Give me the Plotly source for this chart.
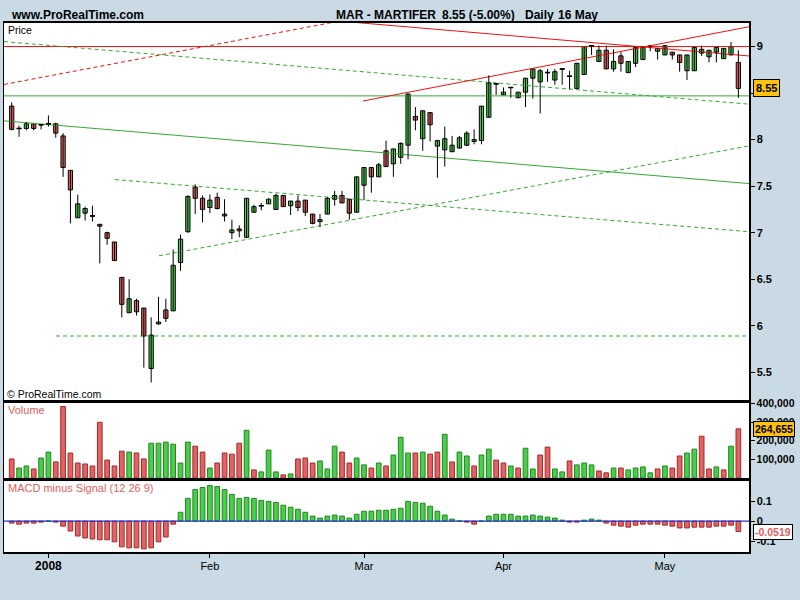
import plotly.graph_objects as go

# ---------------- data ----------------
day_index = list(range(100))

open_px = [8.36, 8.12, 8.12, 8.17, 8.16, 8.17, 8.17, 8.04, 7.67, 7.16,
           7.21, 7.18, 7.09, 7.00, 6.90, 6.52, 6.14, 6.27, 6.19, 5.54,
           6.02, 6.17, 6.16, 6.68, 7.01, 7.49, 7.37, 7.27, 7.38, 7.18,
           7.00, 7.04, 6.95, 7.22, 7.29, 7.31, 7.25, 7.40, 7.29, 7.34,
           7.35, 7.20, 7.12, 7.20, 7.36, 7.40, 7.36, 7.22, 7.51, 7.70,
           7.60, 7.88, 7.74, 7.81, 7.94, 8.25, 8.01, 8.29, 7.93, 7.89,
           7.87, 7.91, 7.94, 7.98, 7.99, 8.24, 8.60, 8.48, 8.56, 8.45,
           8.51, 8.66, 8.62, 8.72, 8.64, 8.76, 8.68, 8.55, 8.70, 9.01,
           8.84, 8.96, 8.76, 8.90, 8.72, 8.82, 8.86, 9.00, 8.95, 8.91,
           8.94, 8.91, 8.74, 8.74, 8.93, 8.89, 8.94, 8.87, 8.91, 8.83]
high_px = [8.40, 8.15, 8.19, 8.17, 8.16, 8.26, 8.18, 8.07, 7.67, 7.41,
           7.28, 7.29, 7.09, 7.01, 6.90, 6.52, 6.50, 6.29, 6.19, 6.09,
           6.31, 6.29, 6.82, 6.98, 7.40, 7.52, 7.40, 7.41, 7.43, 7.36,
           7.14, 7.08, 7.37, 7.30, 7.32, 7.37, 7.42, 7.40, 7.34, 7.40,
           7.35, 7.20, 7.20, 7.38, 7.45, 7.45, 7.36, 7.60, 7.70, 7.70,
           7.75, 7.99, 7.90, 7.97, 8.49, 8.35, 8.31, 8.29, 7.99, 8.14,
           8.04, 8.04, 8.09, 8.11, 8.36, 8.69, 8.61, 8.56, 8.56, 8.51,
           8.66, 8.76, 8.76, 8.76, 8.76, 8.76, 8.74, 8.82, 9.00, 9.01,
           9.01, 9.01, 8.97, 8.94, 8.84, 8.99, 9.00, 9.01, 8.98, 9.01,
           8.94, 8.91, 8.91, 8.99, 9.01, 8.96, 8.99, 8.98, 9.05, 8.96]
low_px = [8.10, 8.03, 8.10, 8.10, 8.11, 8.14, 8.02, 7.60, 7.10, 7.16,
          7.13, 7.12, 6.67, 6.87, 6.70, 6.09, 6.14, 6.11, 5.55, 5.39,
          6.01, 6.04, 6.16, 6.59, 7.00, 7.20, 7.11, 7.21, 7.25, 7.12,
          6.93, 6.95, 6.94, 7.22, 7.24, 7.31, 7.25, 7.28, 7.19, 7.23,
          7.18, 7.09, 7.06, 7.20, 7.29, 7.32, 7.14, 7.22, 7.35, 7.43,
          7.60, 7.71, 7.60, 7.74, 7.79, 8.10, 7.88, 7.98, 7.59, 7.71,
          7.87, 7.90, 7.93, 7.95, 7.95, 8.24, 8.48, 8.48, 8.45, 8.45,
          8.35, 8.44, 8.28, 8.62, 8.59, 8.59, 8.54, 8.55, 8.70, 8.91,
          8.84, 8.76, 8.73, 8.73, 8.72, 8.78, 8.86, 8.95, 8.86, 8.91,
          8.86, 8.73, 8.64, 8.74, 8.90, 8.83, 8.83, 8.87, 8.91, 8.45]
close_px = [8.11, 8.12, 8.17, 8.12, 8.16, 8.17, 8.07, 7.70, 7.46, 7.31,
            7.26, 7.18, 7.07, 6.94, 6.70, 6.23, 6.29, 6.15, 5.89, 5.90,
            6.04, 6.08, 6.65, 6.93, 7.39, 7.37, 7.25, 7.35, 7.26, 7.20,
            7.03, 7.02, 7.37, 7.28, 7.29, 7.36, 7.40, 7.28, 7.34, 7.27,
            7.22, 7.10, 7.14, 7.37, 7.40, 7.32, 7.21, 7.60, 7.70, 7.60,
            7.73, 7.71, 7.90, 7.96, 8.49, 8.21, 8.31, 8.16, 7.99, 8.01,
            7.94, 8.02, 8.07, 8.00, 8.36, 8.61, 8.60, 8.51, 8.56, 8.51,
            8.66, 8.76, 8.74, 8.72, 8.73, 8.76, 8.68, 8.82, 9.00, 9.01,
            8.96, 8.76, 8.84, 8.82, 8.84, 8.99, 9.00, 9.01, 8.98, 9.01,
            8.91, 8.83, 8.91, 8.99, 8.97, 8.96, 8.99, 8.98, 9.00, 8.55]
prev_close = 8.40  # close of the session before the first bar

volume = [102000, 53000, 64000, 48000, 107000, 139000, 86000, 385000, 134000, 80000,
          75000, 64000, 300000, 96000, 64000, 144000, 139000, 134000, 102000, 187000,
          187000, 193000, 182000, 80000, 193000, 171000, 139000, 53000, 80000, 134000,
          128000, 187000, 257000, 43000, 32000, 150000, 32000, 16000, 21000, 102000,
          107000, 80000, 91000, 48000, 171000, 139000, 80000, 107000, 70000, 53000,
          80000, 64000, 123000, 219000, 134000, 134000, 139000, 128000, 139000, 235000,
          86000, 139000, 118000, 64000, 123000, 155000, 96000, 80000, 64000, 53000,
          160000, 48000, 123000, 166000, 48000, 32000, 91000, 70000, 80000, 70000,
          37000, 27000, 53000, 53000, 43000, 53000, 59000, 27000, 48000, 64000,
          53000, 118000, 134000, 155000, 225000, 48000, 59000, 43000, 171000, 264655]

macd_hist = [-0.010, -0.015, -0.010, -0.010, -0.005, 0.000, -0.005, -0.025, -0.049, -0.074,
             -0.084, -0.089, -0.093, -0.093, -0.103, -0.128, -0.133, -0.133, -0.138, -0.133,
             -0.103, -0.079, -0.015, 0.044, 0.113, 0.157, 0.167, 0.177, 0.172, 0.157,
             0.133, 0.113, 0.118, 0.113, 0.103, 0.098, 0.093, 0.079, 0.069, 0.059,
             0.044, 0.025, 0.015, 0.025, 0.030, 0.025, 0.015, 0.034, 0.049, 0.049,
             0.054, 0.054, 0.059, 0.064, 0.098, 0.093, 0.089, 0.074, 0.049, 0.030,
             0.010, 0.001, -0.005, -0.015, 0.000, 0.025, 0.034, 0.034, 0.034, 0.025,
             0.025, 0.030, 0.025, 0.020, 0.015, 0.005, -0.005, -0.005, 0.005, 0.010,
             0.005, -0.010, -0.020, -0.025, -0.030, -0.020, -0.015, -0.015, -0.015, -0.020,
             -0.025, -0.034, -0.034, -0.030, -0.030, -0.030, -0.025, -0.025, -0.020, -0.0519]

month_tick_index = [5, 27, 48, 67, 89]
month_tick_labels = ["2008", "Feb", "Mar", "Apr", "May"]
price_ticks = [5.5, 6, 6.5, 7, 7.5, 8, 8.5, 9]
volume_ticks = [100000, 200000, 300000, 400000]
macd_ticks = [-0.1, 0, 0.1]

# trend lines drawn on the chart: (start index, start price, end index, end price)
trend_lines = {
    "res_horizontal": (-1.05, 9.00, 100.45, 9.00),
    "sup_horizontal": (-1.05, 8.47, 100.45, 8.47),
    "red_dash_rise": (-1.05, 8.593, 50.0, 9.353),
    "green_dash_fall": (-1.05, 9.053, 100.45, 8.381),
    "red_rise": (47.86, 8.415, 100.45, 9.213),
    "red_fall": (40.0, 9.305, 100.45, 8.899),
    "green_fall": (-1.05, 8.202, 100.45, 7.528),
    "green_dash_rise": (20.07, 6.752, 100.45, 7.933),
    "green_dash_channel": (14.07, 7.571, 100.45, 7.011),
    "green_dash_floor": (6.04, 5.89, 100.45, 5.89),
}

# ---------------- styles ----------------
RED_LINE = "#EE1111"
GREEN_LINE = "#33AA33"
line_styles = {
    "res_horizontal": (RED_LINE, "solid"),
    "sup_horizontal": (GREEN_LINE, "solid"),
    "red_dash_rise": (RED_LINE, "4px,3px"),
    "green_dash_fall": (GREEN_LINE, "4px,3px"),
    "red_rise": (RED_LINE, "solid"),
    "red_fall": (RED_LINE, "solid"),
    "green_fall": (GREEN_LINE, "solid"),
    "green_dash_rise": (GREEN_LINE, "4px,3px"),
    "green_dash_channel": (GREEN_LINE, "4px,3px"),
    "green_dash_floor": (GREEN_LINE, "4px,3px"),
}
UP_FILL = "#4DCB4D"
DOWN_FILL = "#E06464"
UP_EDGE = "#1B8A1B"
DOWN_EDGE = "#A52828"
BG = "#C9DAE4"
FONT = "Liberation Sans"

fig = go.Figure()

# trend lines (behind candles)
for name, (x0, p0, x1, p1) in trend_lines.items():
    col, dash = line_styles[name]
    fig.add_trace(go.Scatter(x=[x0, x1], y=[p0, p1], mode="lines",
                             line=dict(color=col, width=1, dash=dash),
                             xaxis="x", yaxis="y", hoverinfo="skip"))

# wicks
wx, wy = [], []
for i in day_index:
    wx += [i, i, None]
    wy += [low_px[i], high_px[i], None]
fig.add_trace(go.Scatter(x=wx, y=wy, mode="lines", line=dict(color="black", width=1),
                         xaxis="x", yaxis="y", hoverinfo="skip"))

# candle bodies
body_h = [abs(c - o) for o, c in zip(open_px, close_px)]
body_b = [min(o, c) for o, c in zip(open_px, close_px)]
body_col = [UP_FILL if c >= o else DOWN_FILL for o, c in zip(open_px, close_px)]
fig.add_trace(go.Bar(x=day_index, y=body_h, base=body_b, width=0.58,
                     marker=dict(color=body_col, line=dict(color="black", width=1)),
                     xaxis="x", yaxis="y", hoverinfo="skip"))

# doji crosses
dx, dy = [], []
for i in day_index:
    if abs(close_px[i] - open_px[i]) < 0.005:
        dx += [i - 0.34, i + 0.34, None]
        dy += [open_px[i], open_px[i], None]
fig.add_trace(go.Scatter(x=dx, y=dy, mode="lines", line=dict(color="black", width=1.5),
                         xaxis="x", yaxis="y", hoverinfo="skip"))

# volume
prev = [prev_close] + close_px[:-1]
vol_up = [c >= p for c, p in zip(close_px, prev)]
fig.add_trace(go.Bar(x=day_index, y=volume, width=0.64,
                     marker=dict(color=[UP_FILL if u else DOWN_FILL for u in vol_up],
                                 line=dict(color=[UP_EDGE if u else DOWN_EDGE for u in vol_up], width=1)),
                     xaxis="x2", yaxis="y2", hoverinfo="skip"))

# MACD histogram
fig.add_trace(go.Bar(x=day_index, y=macd_hist, width=0.64,
                     marker=dict(color=[UP_FILL if v >= 0 else DOWN_FILL for v in macd_hist],
                                 line=dict(color=[UP_EDGE if v >= 0 else DOWN_EDGE for v in macd_hist], width=1)),
                     xaxis="x3", yaxis="y3", hoverinfo="skip"))

W, H = 800, 600
XDOM = [4 / W, 749 / W]
XR = [-1.05, 100.45]


def py(p):
    return 1 - p / H


base_x = dict(range=XR, domain=XDOM, showgrid=False, zeroline=False, showline=True,
              mirror=True, linecolor="black", linewidth=1.5, fixedrange=True)
base_y = dict(showgrid=False, zeroline=False, showline=True, mirror=True,
              linecolor="black", linewidth=1.5, side="right", ticks="outside",
              ticklen=4, tickcolor="black", tickmode="array",
              tickfont=dict(family=FONT, size=11, color="black"), fixedrange=True)

# the 8.5 label sits under the last-close box in the reference, so it is left blank
price_labels = ["" if abs(v - close_px[-1]) < 0.1 else "<b>%g</b>" % v for v in price_ticks]

fig.update_layout(
    width=W, height=H, margin=dict(l=0, r=0, t=0, b=0),
    paper_bgcolor=BG, plot_bgcolor="white", showlegend=False, hovermode=False,
    barmode="overlay",
    xaxis=dict(base_x, anchor="y", showticklabels=False, ticks=""),
    xaxis2=dict(base_x, anchor="y2", showticklabels=False, ticks=""),
    xaxis3=dict(base_x, anchor="y3", ticks="outside", ticklen=4, tickcolor="black",
                tickmode="array", tickvals=month_tick_index, ticklabelstandoff=-2,
                ticktext=["<b>" + month_tick_labels[0] + "</b>"] +
                         ['<span style="font-size:11px">' + t + "</span>" for t in month_tick_labels[1:]],
                tickfont=dict(family=FONT, size=12, color="black")),
    yaxis=dict(base_y, anchor="x", domain=[py(398), py(17)], range=[5.202, 9.255],
               tickvals=price_ticks, ticktext=price_labels),
    yaxis2=dict(base_y, anchor="x2", domain=[py(477), py(401)], range=[-2100, 404300],
                tickvals=volume_ticks, ticktext=["<b>{:,}</b>".format(v) for v in volume_ticks],
                tickfont=dict(family=FONT, size=10.5, color="black")),
    yaxis3=dict(base_y, anchor="x3", domain=[py(552), py(480)], range=[-0.156, 0.1985],
                tickvals=macd_ticks, ticktext=["<b>%g</b>" % v for v in macd_ticks]),
)

fig.add_shape(type="line", xref="x3 domain", x0=0, x1=1, yref="y3", y0=0, y1=0,
              line=dict(color="#2233CC", width=1.2), layer="above")

ann = []


def text(x, y, s, size=11, color="black", anchor="left", yref="paper"):
    ann.append(dict(x=x / W, y=y if yref != "paper" else py(y), xref="paper", yref=yref,
                    text=s, showarrow=False, xanchor=anchor, yanchor="middle",
                    font=dict(family=FONT, size=size, color=color)))


text(9, 9.5, "<b>www.ProRealTime.com</b>", size=12)
text(334, 9.5, "<b>MAR - MARTIFER</b>", size=12)
text(439.7, 9.5, "<b>8.55 (-5.00%)</b>", size=12)
text(523.3, 9.5, "<b>Daily</b>", size=12)
text(555.7, 9.5, "<b>16 May</b>", size=12)
text(6, 24.5, "Price", size=10.5)
text(5, 392, "© ProRealTime.com", size=10.5)
text(6, 408, "Volume", size=11, color="#E06060")
text(6, 487, "MACD minus Signal (12 26 9)", size=11, color="#E06060")

# last-value boxes on the right axis
ann.append(dict(x=753 / W, xref="paper", xanchor="left", y=close_px[-1], yref="y", yanchor="middle",
                text="<b>%.2f</b>" % close_px[-1], showarrow=False, bgcolor="#FFC20E",
                bordercolor="black", borderwidth=1, borderpad=2,
                font=dict(family=FONT, size=11, color="black")))
ann.append(dict(x=753 / W, xref="paper", xanchor="left", y=volume[-1], yref="y2", yanchor="middle",
                text="<b>{:,}</b>".format(volume[-1]), showarrow=False, bgcolor="#FFC20E",
                bordercolor="black", borderwidth=1, borderpad=1,
                font=dict(family=FONT, size=10.5, color="black")))
ann.append(dict(x=753 / W, xref="paper", xanchor="left", y=macd_hist[-1], yref="y3", yanchor="middle",
                text="<b>%.4f</b>" % macd_hist[-1], showarrow=False, bgcolor="white",
                bordercolor="black", borderwidth=1, borderpad=1,
                font=dict(family=FONT, size=10.5, color="#E06060")))

fig.update_layout(annotations=ann)

fig.write_html("out.html", config={"displayModeBar": False, "staticPlot": True},
               post_script="document.body.style.margin='0';document.body.style.overflow='hidden';")
